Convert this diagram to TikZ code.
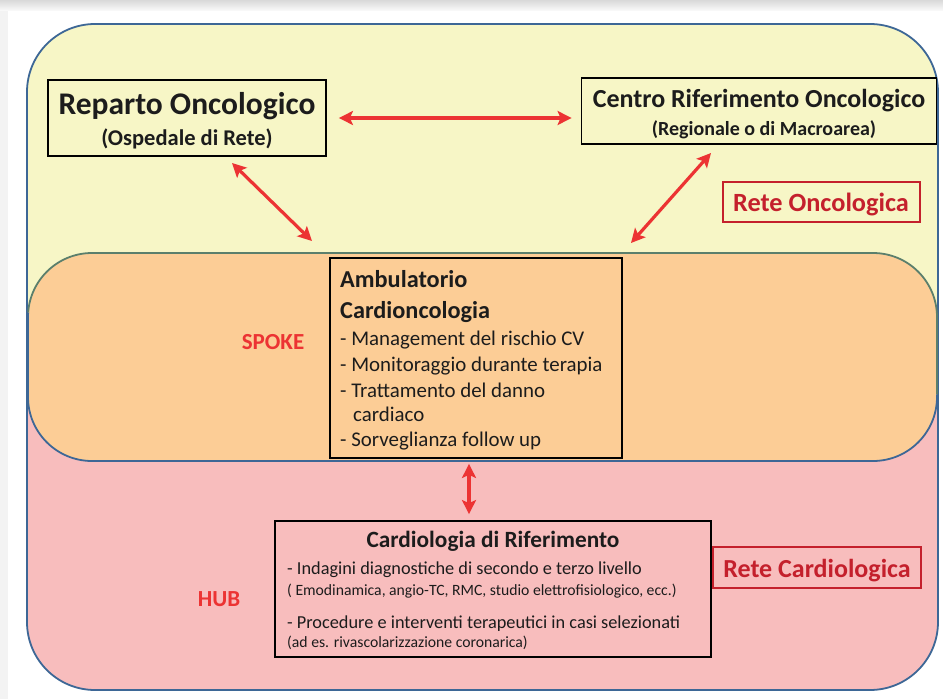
\documentclass[tikz,border=0pt]{standalone}
\usepackage{fontspec}
\setmainfont{Carlito}
\usetikzlibrary{arrows.meta}

\definecolor{pagegray}{HTML}{F3F3F3}
\definecolor{bandgray}{HTML}{D9D9D9}
\definecolor{oncyellow}{HTML}{F7F6C6}
\definecolor{spokeorange}{HTML}{FCCD96}
\definecolor{hubpink}{HTML}{F8BDBD}
\definecolor{frameblue}{HTML}{3D6796}
\definecolor{framegreen}{HTML}{5B7F6C}
\definecolor{linkred}{HTML}{EC3333}
\definecolor{netred}{HTML}{C4202C}
\definecolor{inktext}{HTML}{1C1C1C}

\newcommand{\fs}[1]{\fontsize{#1}{#1}\selectfont}

\tikzset{
  unitbox/.style={draw=black, line width=1.8pt, inner sep=0pt, text=inktext},
  netbox/.style={draw=netred, line width=1.4pt, inner sep=0pt, text=netred,
    font=\bfseries\fs{26}},
  txt/.style={inner sep=0pt, text=inktext},
  zonelabel/.style={inner sep=0pt, text=linkred, font=\bfseries\fs{23}},
  link/.style={draw=linkred, line width=3.2pt,
    {Stealth[length=14pt,width=14pt,inset=3pt]}-{Stealth[length=14pt,width=14pt,inset=3pt]}},
}

\begin{document}
\begin{tikzpicture}[x=1pt,y=-1pt]
\useasboundingbox (0,0) rectangle (943,699);

% page background
\fill[pagegray] (0,0) rectangle (943,699);
\fill[white] (8,10) rectangle (943,699);
\shade[top color=bandgray, bottom color=pagegray!60!white] (0,0) rectangle (943,10);

% oncology (top) / cardiology (bottom) network area
\begin{scope}
  \clip[rounded corners=68pt] (27,24) rectangle (938,690);
  \fill[hubpink] (27,24) rectangle (938,690);
  \fill[oncyellow] (27,24) rectangle (938,357);
\end{scope}
\draw[frameblue, line width=1.8pt, rounded corners=68pt] (27,24) rectangle (938,690);

% spoke band where the two networks overlap
\fill[spokeorange, rounded corners=64pt] (28,253) rectangle (937,461);
\begin{scope}
  \clip (0,0) -- (943,0) -- (943,395) -- (0,310) -- cycle;
  \draw[framegreen, line width=1.8pt, rounded corners=64pt] (28,253) rectangle (937,461);
\end{scope}
\begin{scope}
  \clip (0,699) -- (943,699) -- (943,395) -- (0,310) -- cycle;
  \draw[frameblue, line width=1.8pt, rounded corners=64pt] (28,253) rectangle (937,461);
\end{scope}

% units
\node[unitbox, fill=oncyellow, minimum width=278pt, minimum height=76pt] (rep) at (187,118) {};
\node[txt, anchor=base, font=\bfseries\fs{31.5}] (repT) at (187,114) {Reparto Oncologico};
\node[txt, anchor=base, font=\bfseries\fs{22.5}] (repS) at (187,145) {(Ospedale di Rete)};

\node[unitbox, fill=oncyellow, minimum width=355pt, minimum height=66pt] (centro) at (759,111) {};
\node[txt, anchor=base, font=\bfseries\fs{26}] (centroT) at (759,107) {Centro Riferimento Oncologico};
\node[txt, anchor=base, font=\bfseries\fs{20}] (centroS) at (764,135) {(Regionale o di Macroarea)};

\node[netbox, minimum width=197pt, minimum height=40pt] (reteOnc) at (821.5,202) {};
\node[inner sep=0pt, anchor=base, text=netred, font=\bfseries\fs{26.3}] (reteOncT) at (821,211) {Rete Oncologica};

\node[zonelabel, anchor=base] (spoke) at (273,349) {SPOKE};
\node[zonelabel, anchor=base] (hub) at (219,606) {HUB};

\node[unitbox, fill=spokeorange, minimum width=292pt, minimum height=200pt] (amb) at (476,358) {};
\node[txt, anchor=base west, font=\bfseries\fs{24.3}] (ambT1) at (340,287) {Ambulatorio};
\node[txt, anchor=base west, font=\bfseries\fs{24.3}] (ambT2) at (340,318) {Cardioncologia};
\node[txt, anchor=base west, font=\fs{20.9}] (ambI1) at (340,345) {- Management del rischio CV};
\node[txt, anchor=base west, font=\fs{20.9}] (ambI2) at (340,371) {- Monitoraggio durante terapia};
\node[txt, anchor=base west, font=\fs{20.9}] (ambI3) at (340,397) {- Trattamento del danno};
\node[txt, anchor=base west, font=\fs{20.9}] (ambI3b) at (353,421) {cardiaco};
\node[txt, anchor=base west, font=\fs{20.9}] (ambI4) at (340,446) {- Sorveglianza follow up};

\node[unitbox, fill=hubpink, minimum width=436pt, minimum height=136pt] (card) at (493,589) {};
\node[txt, anchor=base, font=\bfseries\fs{23.3}] (cardT) at (493,547) {Cardiologia di Riferimento};
\node[txt, anchor=base west, font=\fs{18.3}] (cardI1) at (287,574) {- Indagini diagnostiche di secondo e terzo livello};
\node[txt, anchor=base west, font=\fs{15.7}] (cardI1b) at (287,595) {( Emodinamica, angio-TC, RMC, studio elettrofisiologico, ecc.)};
\node[txt, anchor=base west, font=\fs{18.3}] (cardI2) at (287,628) {- Procedure e interventi terapeutici in casi selezionati};
\node[txt, anchor=base west, font=\fs{15.7}] (cardI2b) at (287,647) {(ad es. rivascolarizzazione coronarica)};

\node[netbox, fill=hubpink, minimum width=208pt, minimum height=41pt] (reteCard) at (817,567.5) {};
\node[inner sep=0pt, anchor=base, text=netred, font=\bfseries\fs{26}] (reteCardT) at (817,577) {Rete Cardiologica};

% links
\coordinate (repLink) at (232,163);
\coordinate (spokeLeft) at (312,241);
\coordinate (centroLink) at (711,153);
\coordinate (spokeRight) at (631,243);
\coordinate (axisV) at (469,0);

\draw[link, shorten <=12pt, shorten >=9pt] (rep.east) -- (rep.east -| centro.west);
\draw[link] (repLink) -- (spokeLeft);
\draw[link] (centroLink) -- (spokeRight);
\draw[link, shorten <=5pt, shorten >=6pt] (amb.south -| axisV) -- (card.north -| axisV);
\end{tikzpicture}
\end{document}
